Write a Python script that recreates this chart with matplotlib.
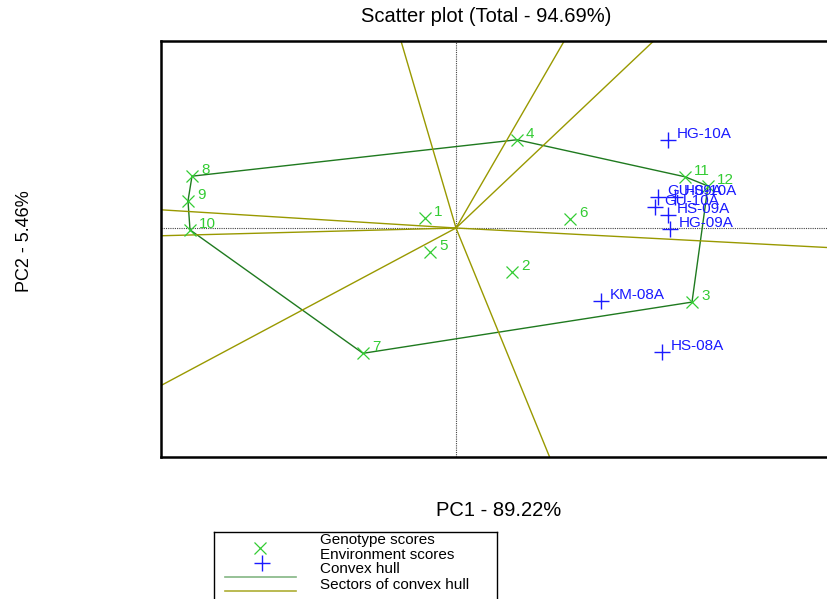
import numpy as np
import matplotlib
matplotlib.use('Agg')
import matplotlib.pyplot as plt

# genotype scores (PC1, PC2)
geno_names = ['1', '2', '3', '4', '5', '6', '7', '8', '9', '10', '11', '12']
geno_pc1 = [-0.31, 0.56, 2.36, 0.61, -0.26, 1.14, -0.93, -2.64, -2.68, -2.66, 2.29, 2.52]
geno_pc2 = [0.16, -0.71, -1.20, 1.43, -0.39, 0.15, -2.03, 0.84, 0.44, -0.03, 0.83, 0.68]

# environment scores (PC1, PC2)
env_names = ['HG-10A', 'GU-09A', 'HS-10A', 'GU-10A', 'HS-09A', 'HG-09A', 'KM-08A', 'HS-08A']
env_pc1 = [2.12, 2.02, 2.19, 1.99, 2.12, 2.14, 1.45, 2.06]
env_pc2 = [1.43, 0.50, 0.50, 0.34, 0.21, -0.02, -1.18, -2.01]

GENO_COL = '#33cc33'
ENV_COL = '#1a1aff'
HULL_COL = '#1f7a1f'
SECT_COL = '#999900'


def convex_hull(pts):
    pts = sorted(set(pts))

    def cross(o, a, b):
        return (a[0] - o[0]) * (b[1] - o[1]) - (a[1] - o[1]) * (b[0] - o[0])

    lower, upper = [], []
    for p in pts:
        while len(lower) >= 2 and cross(lower[-2], lower[-1], p) <= 0:
            lower.pop()
        lower.append(p)
    for p in reversed(pts):
        while len(upper) >= 2 and cross(upper[-2], upper[-1], p) <= 0:
            upper.pop()
        upper.append(p)
    return lower[:-1] + upper[:-1]


fig = plt.figure(figsize=(8.27, 5.99), dpi=100)
plt.rcParams['font.family'] = ['Liberation Sans', 'DejaVu Sans']

W, H = 827, 599
ax = fig.add_axes([161 / W, 1 - 457 / H, (866 - 161) / W, (457 - 41) / H])
ax.set_xlim(-2.95, 4.10)
ax.set_ylim(-3.71, 3.03)
ax.set_xticks([])
ax.set_yticks([])
for side in ['left', 'top', 'bottom', 'right']:
    ax.spines[side].set_linewidth(1.8)

# origin cross
ax.axhline(0, color='#444444', lw=0.8, ls=(0, (1, 1)), zorder=1)
ax.axvline(0, color='#444444', lw=0.8, ls=(0, (1, 1)), zorder=1)

# convex hull of genotypes
hull = convex_hull(list(zip(geno_pc1, geno_pc2)))
hx = [p[0] for p in hull] + [hull[0][0]]
hy = [p[1] for p in hull] + [hull[0][1]]
ax.plot(hx, hy, color=HULL_COL, lw=1.0, zorder=2)

# sector lines: perpendicular from origin to each hull edge
for i in range(len(hull)):
    p1 = np.array(hull[i])
    p2 = np.array(hull[(i + 1) % len(hull)])
    d = p2 - p1
    foot = p1 - (p1 @ d) / (d @ d) * d
    end = foot / np.linalg.norm(foot) * 20
    ax.plot([0, end[0]], [0, end[1]], color=SECT_COL, lw=1.0, zorder=2)

# genotypes
ax.plot(geno_pc1, geno_pc2, 'x', color=GENO_COL, ms=8.5, mew=0.9, zorder=3)
for n, x, y in zip(geno_names, geno_pc1, geno_pc2):
    ax.annotate(n, (x, y), xytext=(6.5, 4.5), textcoords='offset points',
                ha='left', va='center', fontsize=11, color=GENO_COL, zorder=4)

# environments
ax.plot(env_pc1, env_pc2, '+', color=ENV_COL, ms=11, mew=1.0, zorder=3)
for n, x, y in zip(env_names, env_pc1, env_pc2):
    ax.annotate(n, (x, y), xytext=(6.5, 4.5), textcoords='offset points',
                ha='left', va='center', fontsize=11, color=ENV_COL, zorder=4)

fig.text(486 / W, 1 - 17 / H, 'Scatter plot (Total - 94.69%)', ha='center', va='center', fontsize=14.5)
fig.text(499 / W, 1 - 511 / H, 'PC1 - 89.22%', ha='center', va='center', fontsize=14.5)
fig.text(25 / W, 1 - 241 / H, 'PC2 - 5.46%', ha='center', va='center', fontsize=13, rotation=90)

# legend box drawn in its own axes (pixel units)
lg = fig.add_axes([214 / W, 1 - 620 / H, (497 - 214) / W, (620 - 532) / H])
lg.set_xlim(0, 283)
lg.set_ylim(88, 0)
lg.set_xticks([])
lg.set_yticks([])
for side in lg.spines:
    lg.spines[side].set_linewidth(1.0)
lg.plot([46], [16], 'x', color=GENO_COL, ms=8, mew=0.9)
lg.plot([48], [31], '+', color=ENV_COL, ms=11, mew=1.0)
lg.plot([11, 82], [45, 45], color=HULL_COL, lw=1.2, alpha=0.55)
lg.plot([11, 82], [59, 59], color=SECT_COL, lw=1.2, alpha=0.8)
for y, t in zip([8, 23, 37, 53], ['Genotype scores', 'Environment scores', 'Convex hull', 'Sectors of convex hull']):
    lg.text(106, y, t, ha='left', va='center', fontsize=11)

fig.savefig('out.png', dpi=100)
